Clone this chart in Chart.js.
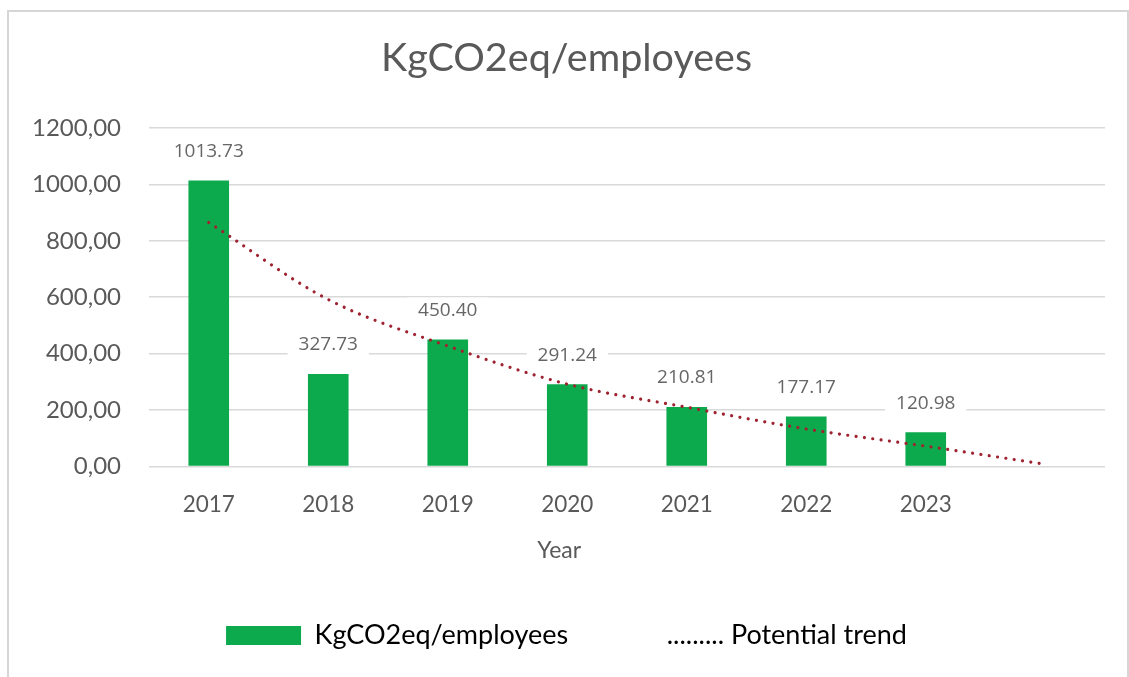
<!DOCTYPE html>
<html>
<head>
<meta charset="utf-8">
<title>KgCO2eq/employees</title>
<script src="https://cdn.jsdelivr.net/npm/chart.js@4.4.1/dist/chart.umd.min.js"></script>
<style>
  html, body { margin: 0; padding: 0; background: #fff; overflow: hidden; }
  #frame { position: absolute; left: 7px; top: 10px; width: 1122px; height: 700px; border: 2px solid #d6d6d6; box-sizing: border-box; }
  #wrap { position: absolute; left: 0; top: 0; width: 1129px; height: 677px; }
</style>
</head>
<body>
<div id="frame"></div>
<div id="wrap"><canvas id="myChart"></canvas></div>
<script>
// years on the x axis, last slot is the one-period trend forecast
const years = ['2017', '2018', '2019', '2020', '2021', '2022', '2023', ''];
const emissions = [1013.73, 327.73, 450.40, 291.24, 210.81, 177.17, 120.98];
const trend = [865, 592, 427, 292, 210, 133, 72, 8];
const yMax = 1200;
const yStep = 200;

const green = '#0caa4d';
const textGray = '#595959';

// white boxes behind the value labels (they hide the gridlines), text on top
const barLabels = {
    id: 'barLabels',
    beforeDatasetsDraw(chart) {
        const ctx = chart.ctx;
        ctx.save();
        ctx.font = '19px "Open Sans"';
        ctx.fillStyle = '#fff';
        chart.getDatasetMeta(0).data.forEach((bar, i) => {
            if (emissions[i] == null) return;
            const w = ctx.measureText(emissions[i].toFixed(2)).width + 22;
            ctx.fillRect(bar.x - w / 2, bar.y - 29 - 13, w, 26);
        });
        ctx.restore();
    },
    afterDatasetsDraw(chart) {
        const ctx = chart.ctx;
        ctx.save();
        ctx.font = '19px "Open Sans"';
        ctx.fillStyle = '#666';
        ctx.textAlign = 'center';
        ctx.textBaseline = 'middle';
        chart.getDatasetMeta(0).data.forEach((bar, i) => {
            if (emissions[i] == null) return;
            ctx.fillText(emissions[i].toFixed(2), bar.x, bar.y - 29);
        });
        ctx.restore();
    }
};

// axis title sits under the year labels, not under the whole axis
const yearTitle = {
    id: 'yearTitle',
    afterDraw(chart) {
        const ctx = chart.ctx;
        const x = chart.scales.x.getPixelForValue(3) - 8;
        ctx.save();
        ctx.font = '23px Lato';
        ctx.fillStyle = textGray;
        ctx.textAlign = 'center';
        ctx.textBaseline = 'middle';
        ctx.fillText('Year', x, chart.chartArea.bottom + 84);
        ctx.restore();
    }
};

const ctx = document.getElementById('myChart').getContext('2d');

const myChart = new Chart(ctx, {
    type: 'bar',
    data: {
        labels: years,
        datasets: [
            {
                label: 'KgCO2eq/employees',
                data: emissions,
                backgroundColor: green,
                borderWidth: 0,
                categoryPercentage: 1,
                barPercentage: 0.34,
                order: 1
            },
            {
                type: 'line',
                label: 'Potential trend',
                data: trend,
                borderColor: '#9e2230',
                borderWidth: 3.2,
                borderDash: [0.01, 8.4],
                borderCapStyle: 'round',
                cubicInterpolationMode: 'monotone',
                pointRadius: 0,
                fill: false,
                order: 0
            }
        ]
    },
    options: {
        responsive: true,
        maintainAspectRatio: false,
        animation: false,
        layout: {
            padding: { top: 10, left: 28, right: 24, bottom: 18 }
        },
        scales: {
            x: {
                grid: { display: false },
                border: { display: false },
                ticks: {
                    color: textGray,
                    font: { family: 'Lato', size: 22.5 },
                    padding: 17
                },
                afterFit(scale) { scale.height = 145.5; }
            },
            y: {
                min: 0,
                max: yMax,
                grid: { color: '#d9d9d9', lineWidth: 1.6, drawTicks: false },
                border: { display: false },
                ticks: {
                    stepSize: yStep,
                    color: textGray,
                    font: { family: 'Lato', size: 24 },
                    padding: 28,
                    callback: v => v.toFixed(2).replace('.', ',')
                },
                afterFit(scale) { scale.width = 121; }
            }
        },
        plugins: {
            title: {
                display: true,
                text: 'KgCO2eq/employees',
                color: textGray,
                font: { family: 'Lato', size: 39.5, weight: 'normal' },
                padding: { top: 25, bottom: 45.6 }
            },
            legend: {
                position: 'bottom',
                onClick: null,
                labels: {
                    color: textGray,
                    font: { family: 'Lato', size: 27 },
                    boxWidth: 75,
                    boxHeight: 19,
                    padding: 10,
                    generateLabels() {
                        return [
                            { text: 'KgCO2eq/employees', fillStyle: green, strokeStyle: green, lineWidth: 0, datasetIndex: 0 },
                            { text: '......... Potential trend', fillStyle: 'rgba(0,0,0,0)', strokeStyle: 'rgba(0,0,0,0)', lineWidth: 0, datasetIndex: 1 }
                        ];
                    }
                }
            },
            tooltip: { enabled: false }
        }
    },
    plugins: [barLabels, yearTitle]
});
</script>
</body>
</html>
